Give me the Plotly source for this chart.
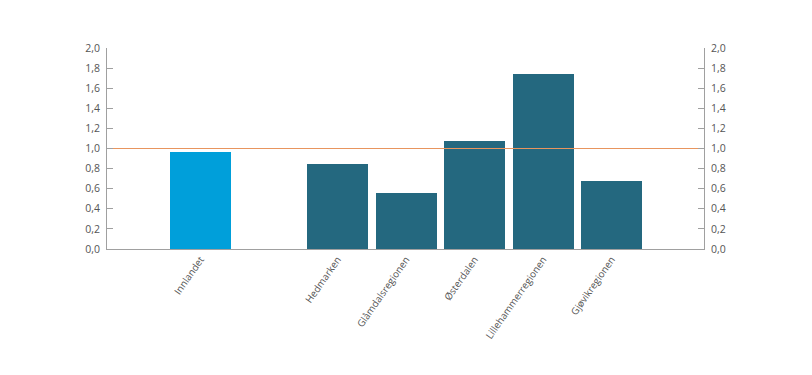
import plotly.graph_objects as go

categories = ["Innlandet", " ", "Hedmarken", "Glåmdalsregionen", "Østerdalen", "Lillehammerregionen", "Gjøvikregionen"]
values = [0.97, None, 0.85, 0.56, 1.07, 1.74, 0.68]
colors = ["#009fda", "#ffffff", "#24687f", "#24687f", "#24687f", "#24687f", "#24687f"]
reference_value = 1.0
tick_vals = [0, 0.2, 0.4, 0.6, 0.8, 1.0, 1.2, 1.4, 1.6, 1.8, 2.0]

fig = go.Figure()
fig.add_trace(go.Bar(x=list(range(len(categories))), y=values, marker_color=colors,
                     marker_line_width=0, width=0.89, showlegend=False, hoverinfo="skip"))
fig.add_trace(go.Scatter(x=[-1.365, len(categories) - 1 + 1.35], y=[reference_value, reference_value],
                         mode="lines", line=dict(color="#e8955e", width=1.2),
                         showlegend=False, hoverinfo="skip"))
fig.add_trace(go.Scatter(x=[0], y=[0], yaxis="y2", mode="markers", marker=dict(opacity=0),
                         showlegend=False, hoverinfo="skip"))

axis_font = dict(family="Open Sans", size=10.5, color="#555555")
x_font = dict(family="Open Sans", size=9.8, color="#555555")
fig.update_layout(
    width=804, height=367,
    margin=dict(l=99, r=108, t=40, b=126),
    paper_bgcolor="white", plot_bgcolor="white",
    separators=", ",
    bargap=0,
    xaxis=dict(range=[-1.365, len(categories) - 1 + 1.35],
               tickvals=list(range(len(categories))), ticktext=categories,
               tickangle=-55, tickfont=x_font, showgrid=False, zeroline=False,
               showline=True, linecolor="#a0a0a0", linewidth=1, ticks=""),
    yaxis=dict(range=[0, 2.0], tickvals=tick_vals, tickformat=".1f", tickfont=axis_font,
               showgrid=False, zeroline=False, showline=True, linecolor="#a0a0a0",
               ticks="inside", ticklen=6, tickcolor="#a0a0a0", ticklabelstandoff=4),
    yaxis2=dict(range=[0, 2.0], tickvals=tick_vals, tickformat=".1f", tickfont=axis_font,
                overlaying="y", side="right", showgrid=False, zeroline=False,
                showline=True, linecolor="#a0a0a0", ticks="inside", ticklen=6,
                tickcolor="#a0a0a0", ticklabelstandoff=4),
)
fig.write_html("out.html")
